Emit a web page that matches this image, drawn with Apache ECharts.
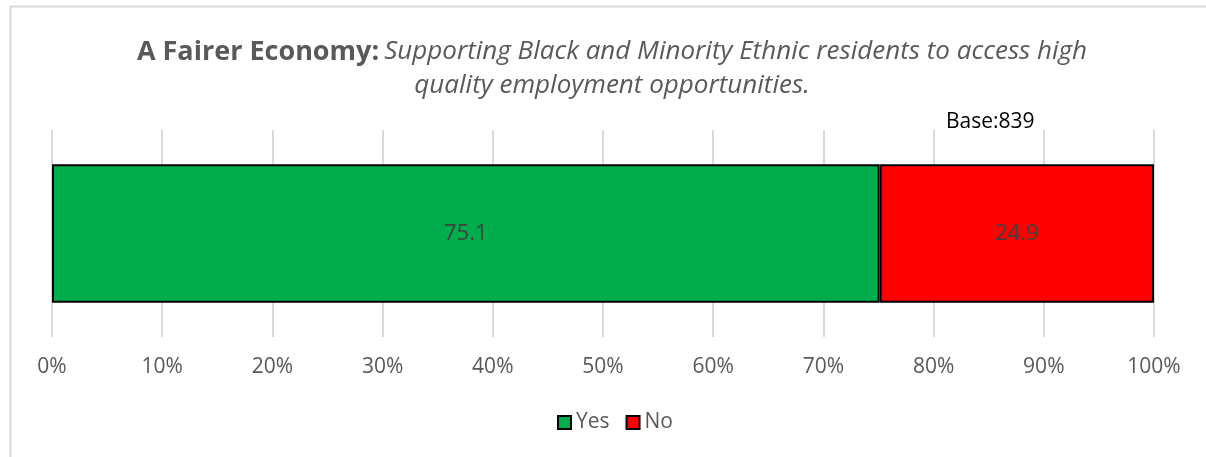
<!DOCTYPE html>
<html>
<head>
<meta charset="utf-8">
<script src="https://cdn.jsdelivr.net/npm/echarts@6/dist/echarts.min.js"></script>
<style>
html,body{margin:0;padding:0;background:#fff;}
#chart{width:1206px;height:457px;}
</style>
</head>
<body>
<div id="chart"></div>
<script>
const categories = ['A Fairer Economy'];
const seriesNames = ['Yes', 'No'];
const yesValues = [75.1];
const noValues = [24.9];
const baseCount = 839;
const tickLabels = ['0%','10%','20%','30%','40%','50%','60%','70%','80%','90%','100%'];

const FONT = '"Open Sans", "Noto Sans", sans-serif';
const chart = echarts.init(document.getElementById('chart'), null, {renderer: 'canvas'});

const labelStyle = {
  show: true, position: 'inside', color: '#404040', fontSize: 22, fontFamily: FONT,
  formatter: p => p.value.toFixed(1)
};

chart.setOption({
  animation: false,
  backgroundColor: '#ffffff',
  title: {
    left: 607, top: 30, textAlign: 'center',
    text: '{b|A Fairer Economy:} {i|Supporting Black and Minority Ethnic residents to access high}\n{i|quality employment opportunities.}',
    textStyle: {
      fontWeight: 'normal',
      rich: {
        b: {fontFamily: FONT, fontWeight: 'bold', fontSize: 27, color: '#595959', lineHeight: 34},
        i: {fontFamily: FONT, fontStyle: 'italic', fontWeight: 'normal', fontSize: 26, color: '#595959', lineHeight: 34}
      }
    }
  },
  legend: {
    bottom: 19, left: 552,
    data: seriesNames,
    icon: 'rect', itemWidth: 13, itemHeight: 13, itemGap: 16,
    textStyle: {fontFamily: FONT, fontSize: 21, color: '#595959'}
  },
  grid: {left: 52, right: 52, top: 130, bottom: 120, containLabel: false},
  xAxis: {
    type: 'value', min: 0, max: 100, interval: 10,
    axisLine: {show: false}, axisTick: {show: false},
    axisLabel: {
      formatter: (v) => tickLabels[Math.round(v / 10)],
      fontFamily: FONT, fontSize: 21, color: '#595959', margin: 20
    },
    splitLine: {show: true, lineStyle: {color: '#d9d9d9', width: 2}}
  },
  yAxis: {
    type: 'category', data: categories,
    axisLine: {show: false}, axisTick: {show: false}, axisLabel: {show: false}
  },
  series: [
    {
      name: seriesNames[0], type: 'bar', stack: 'total', data: yesValues,
      barCategoryGap: '33%',
      itemStyle: {color: '#00AD4D', borderColor: '#000000', borderWidth: 2},
      label: labelStyle
    },
    {
      name: seriesNames[1], type: 'bar', stack: 'total', data: noValues,
      itemStyle: {color: '#FF0000', borderColor: '#000000', borderWidth: 2},
      label: labelStyle
    }
  ],
  graphic: [
    {type: 'rect', left: 8, top: 4, shape: {width: 1300, height: 600}, silent: true, z: -10,
     style: {fill: 'none', stroke: '#d9d9d9', lineWidth: 2}},
    {type: 'text', left: 946, top: 112, silent: true,
     style: {text: 'Base:' + baseCount, fontFamily: FONT, fontSize: 21, fill: '#000000'}}
  ]
});
</script>
</body>
</html>
